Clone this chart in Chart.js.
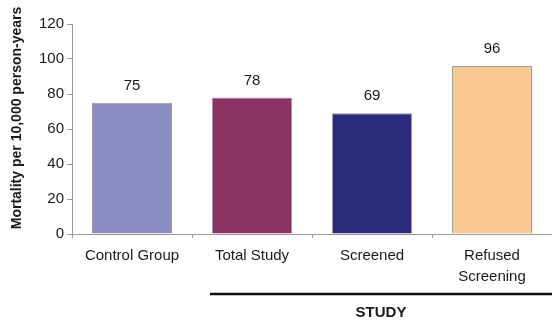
<!DOCTYPE html>
<html>
<head>
<meta charset="utf-8">
<script src="https://cdn.jsdelivr.net/npm/chart.js@4/dist/chart.umd.min.js"></script>
<style>
  html, body { margin: 0; padding: 0; background: #fff; }
  #wrap { width: 552px; height: 322px; }
</style>
</head>
<body>
<div id="wrap"><canvas id="mortChart" width="552" height="322"></canvas></div>
<script>
const categories = ['Control Group', 'Total Study', 'Screened', ['Refused', 'Screening']];
const mortality = [75, 78, 69, 96];
const barColors = ['#8b8bc4', '#8b3263', '#2b2c7c', '#f9c792'];
const yTicks = [0, 20, 40, 60, 80, 100, 120];
const yTitle = 'Mortality per 10,000 person-years';
const groupLabel = 'STUDY';

const FONT = '"Liberation Sans", Arial, sans-serif';

// numbers above each bar
const valueLabels = {
  id: 'valueLabels',
  afterDatasetsDraw(chart) {
    const ctx = chart.ctx;
    const meta = chart.getDatasetMeta(0);
    ctx.save();
    ctx.font = '15px ' + FONT;
    ctx.fillStyle = '#1a1a1a';
    ctx.textAlign = 'center';
    ctx.textBaseline = 'middle';
    meta.data.forEach((bar, i) => {
      ctx.fillText(String(mortality[i]), bar.x, bar.y - 17);
    });
    ctx.restore();
  }
};

// rotated y title + STUDY bracket under the study bars
const extras = {
  id: 'extras',
  afterDraw(chart) {
    const ctx = chart.ctx;
    const y = chart.scales.y;
    const meta = chart.getDatasetMeta(0);
    ctx.save();
    ctx.fillStyle = '#1a1a1a';
    ctx.font = 'bold 14px ' + FONT;
    ctx.textAlign = 'center';
    ctx.textBaseline = 'middle';
    ctx.translate(17, (y.top + y.bottom) / 2 - 11);
    ctx.rotate(-Math.PI / 2);
    ctx.fillText(yTitle, 0, 0);
    ctx.restore();

    const first = meta.data[1];
    const x0 = first.x - first.width / 2 - 2;
    const x1 = chart.width;
    const lineY = y.bottom + 60;
    ctx.save();
    ctx.strokeStyle = '#111';
    ctx.lineWidth = 2.5;
    ctx.beginPath();
    ctx.moveTo(x0, lineY);
    ctx.lineTo(x1, lineY);
    ctx.stroke();
    ctx.fillStyle = '#1a1a1a';
    ctx.font = 'bold 15px ' + FONT;
    ctx.textAlign = 'center';
    ctx.textBaseline = 'middle';
    ctx.fillText(groupLabel, (x0 + x1) / 2, lineY + 19);
    ctx.restore();
  }
};

const ctx = document.getElementById('mortChart').getContext('2d');
const chart = new Chart(ctx, {
  type: 'bar',
  data: {
    labels: categories,
    datasets: [{
      data: mortality,
      backgroundColor: barColors,
      borderColor: 'rgba(130, 130, 140, 0.8)',
      borderWidth: 1,
      barPercentage: 0.667,
      categoryPercentage: 1
    }]
  },
  options: {
    responsive: false,
    animation: false,
    layout: { padding: { left: 0, right: 0, top: 24, bottom: 0 } },
    plugins: {
      legend: { display: false },
      tooltip: { enabled: false }
    },
    scales: {
      x: {
        grid: { drawOnChartArea: false, drawTicks: true, tickLength: 4, color: '#9a9a9a', offset: true },
        border: { color: '#9a9a9a', width: 1 },
        ticks: {
          color: '#1a1a1a',
          font: { family: FONT, size: 15, lineHeight: 1.35 },
          padding: 8,
          maxRotation: 0,
          autoSkip: false
        },
        afterFit(scale) { scale.height = 88; }
      },
      y: {
        min: 0,
        max: 120,
        afterBuildTicks(scale) { scale.ticks = yTicks.map(v => ({ value: v })); },
        grid: { drawOnChartArea: false, drawTicks: true, tickLength: 5, color: '#9a9a9a' },
        border: { color: '#9a9a9a', width: 1 },
        ticks: {
          color: '#1a1a1a',
          font: { family: FONT, size: 15 },
          padding: 3
        },
        afterFit(scale) { scale.width = 72; }
      }
    }
  },
  plugins: [valueLabels, extras]
});
</script>
</body>
</html>
